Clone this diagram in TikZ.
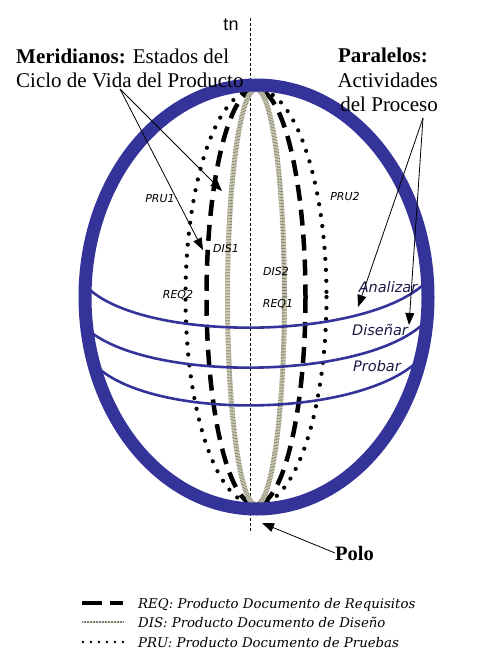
\documentclass[tikz,border=0pt]{standalone}
\usepackage{fontspec}
\setmainfont{Liberation Serif}
\newfontfamily\tagfont{DejaVu Sans}
\newfontfamily\legfont{DejaVu Serif}
\newfontfamily\axisfont{Liberation Sans}
\usetikzlibrary{arrows.meta}
\definecolor{globeblue}{RGB}{51,51,153}
\definecolor{actnavy}{RGB}{25,25,70}
\definecolor{disolive}{RGB}{228,224,186}

\begin{document}
\begin{tikzpicture}[x=1pt, y=-1pt,
    globe/.style={draw=globeblue, line width=13pt},
    parallel/.style={draw=globeblue, line width=2.6pt},
    req/.style={draw=black, line width=4.5pt, dash pattern=on 16pt off 9pt},
    dis/.style={draw=disolive, line width=5pt, postaction={draw=black!50, line width=5pt, dash pattern=on 0.6pt off 0.9pt}},
    pru/.style={draw=black, line width=4.2pt, line cap=round, dash pattern=on 0pt off 11pt},
    axis/.style={draw=black, line width=0.6pt, dash pattern=on 3pt off 2pt},
    arr/.style={-{Triangle[length=12pt,width=9pt]}, line width=0.8pt},
    big/.style={font=\fontsize{21}{24.5}\selectfont, inner sep=0pt},
    tag/.style={font=\tagfont\itshape\fontsize{11}{13}\selectfont, inner sep=0pt},
    act/.style={font=\tagfont\itshape\fontsize{14.5}{16}\selectfont, text=actnavy, inner sep=0pt},
    legend/.style={font=\legfont\itshape\fontsize{13.3}{15}\selectfont, inner sep=0pt, anchor=base west}
  ]
  \useasboundingbox (0,0) rectangle (488,666);

  \draw[axis] (250,18) -- (250,533);

  \draw[pru] (256,297) ellipse [x radius=70.5, y radius=208];
  \draw[req] (256,297) ellipse [x radius=49.5, y radius=208];
  \draw[dis] (256,297) ellipse [x radius=28.5, y radius=208];

  \draw[parallel] (90,290) .. controls (150,342) and (360,340) .. (423,285);
  \draw[parallel] (88,330) .. controls (150,382) and (360,380) .. (422,325);
  \draw[parallel] (97,367) .. controls (155,420) and (355,418) .. (417,362);

  \draw[globe] (256.5,297) ellipse [x radius=171.5, y radius=212];

  \node[font=\axisfont\fontsize{18}{20}\selectfont, inner sep=0pt, anchor=base] (tn) at (231,31) {tn};

  \node[big, anchor=base west, align=left] (meridianos) at (16,88)
    {\textbf{Meridianos:} Estados del\\Ciclo de Vida del Producto};
  \node[big, anchor=base east, align=right] (paralelos) at (438,112)
    {\textbf{Paralelos:}\hspace*{10pt}\\Actividades\\del Proceso};
  \node[big, anchor=base west, font=\bfseries\fontsize{20.5}{24.5}\selectfont] (polo) at (335,560) {Polo};

  \node[tag] (pru1) at (160,199) {PRU1};
  \node[tag] (dis1) at (226,248) {DIS1};
  \node[tag] (req2) at (178,295) {REQ2};
  \node[tag] (dis2) at (276,271) {DIS2};
  \node[tag] (req1) at (278,304) {REQ1};
  \node[tag] (pru2) at (345,196) {PRU2};

  \node[act] (analizar) at (388,287) {Analizar};
  \node[act] (disenar) at (380,330) {Diseñar};
  \node[act] (probar) at (377,366) {Probar};

  \coordinate (merfoot) at (120,89);
  \coordinate (tipdis) at (222,191);
  \coordinate (tipreq) at (203,250);
  \coordinate (parfoot) at (423,118);
  \coordinate (tipana) at (358,307);
  \coordinate (tipdsn) at (409,325);
  \coordinate (tippolo) at (262,523);

  \draw[arr] (merfoot) -- (tipdis);
  \draw[arr] (merfoot) -- (tipreq);
  \draw[arr] (parfoot) -- (tipana);
  \draw[arr] (parfoot) -- (tipdsn);
  \draw[arr] (polo.west) -- (tippolo);

  \draw[black, line width=3.5pt, dash pattern=on 20pt off 8pt] (82,603) -- (123,603);
  \draw[disolive, line width=2.2pt, postaction={draw=black!50, line width=2.2pt, dash pattern=on 0.6pt off 0.9pt}] (82,622) -- (123,622);
  \draw[black, line width=2.8pt, line cap=round, dash pattern=on 0pt off 8pt] (83,642) -- (124,642);

  \node[legend] (legreq) at (138,608) {REQ: Producto Documento de Requisitos};
  \node[legend] (legdis) at (138,627) {DIS: Producto Documento de Diseño};
  \node[legend] (legpru) at (138,647) {PRU: Producto Documento de Pruebas};
\end{tikzpicture}
\end{document}
